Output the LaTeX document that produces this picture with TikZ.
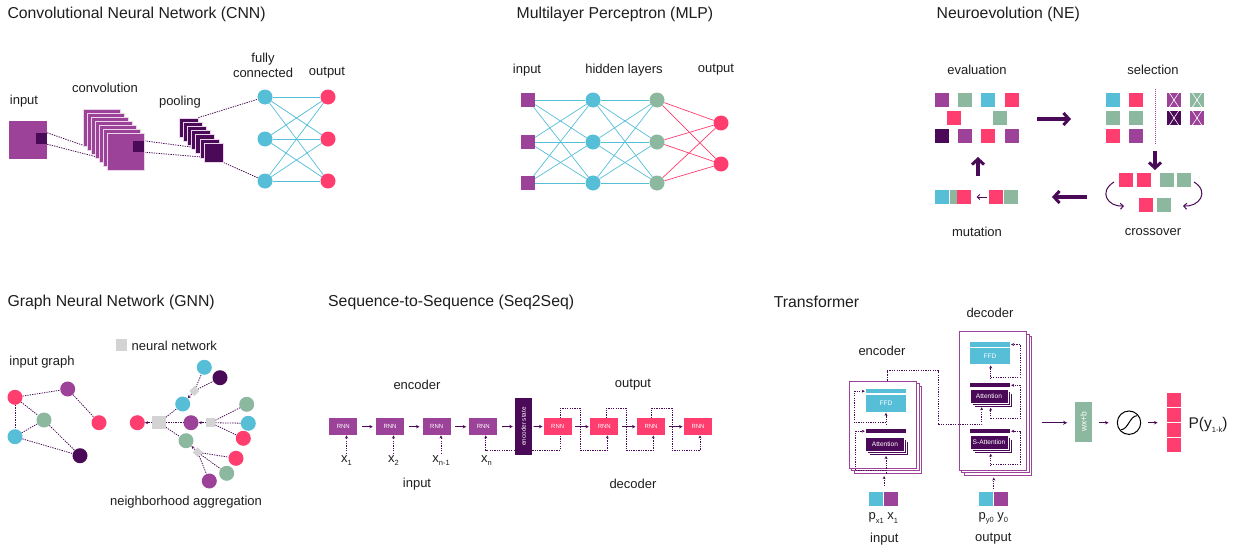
\documentclass[tikz,border=0pt]{standalone}
\usepackage{fontspec}
\setmainfont{Liberation Sans}
\usetikzlibrary{arrows.meta,calc}
\pgfdeclarelayer{bgfill}
\pgfdeclarelayer{bg}
\pgfsetlayers{bgfill,bg,main}
\definecolor{cpurple}{HTML}{9C4399}
\definecolor{cdark}{HTML}{4B0A57}
\definecolor{cred}{HTML}{FF3D6E}
\definecolor{ccyan}{HTML}{57BED8}
\definecolor{cgreen}{HTML}{8CB8A0}
\definecolor{cgrey}{HTML}{D3D3D3}
\definecolor{ctext}{HTML}{1E1E1E}
\definecolor{cpale}{HTML}{EBD5EA}
\newcommand\mysub[1]{\raisebox{-0.45ex}{\fontsize{7.5}{8}\selectfont #1}}
\tikzset{
 txt/.style={text=ctext, inner sep=0},
 lbl/.style={txt, font=\fontsize{13}{15}\selectfont},
 ttl/.style={txt, font=\fontsize{15.8}{18}\selectfont, anchor=west},
 cnode/.style={circle, minimum size=15, inner sep=0},
 snode/.style={rectangle, minimum size=14, inner sep=0},
 dline/.style={draw=cdark, line width=0.8, dash pattern=on 1.3pt off 1.1pt},
 dotarr/.style={dline, -{Stealth[length=3pt,width=3pt]}},
 nnline/.style={draw=ccyan, line width=0.7},
 rdline/.style={draw=cred, line width=0.7},
 sarr/.style={draw=cdark, line width=0.8, -{Stealth[length=3.5pt,width=3.5pt]}},
 bigarrow/.style={draw=cdark, line width=3.4pt, -{Straight Barb[length=5.5pt,width=12pt,line width=3pt]}},
 rnn/.style={rectangle, minimum width=28, minimum height=17, inner sep=0, text=white, font=\fontsize{6}{7}\selectfont},
 small/.style={text=white, font=\fontsize{6.6}{7}\selectfont},
 tbox/.style={rectangle, draw=cpurple, fill=white, line width=0.9, inner sep=0},
 diam/.style={rectangle, rotate=45, minimum size=7, inner sep=0, fill=cgrey},
}
\begin{document}
\begin{tikzpicture}[x=1pt,y=-1pt]
\useasboundingbox (0,0) rectangle (1237,554);
\begin{pgfonlayer}{bgfill}
\fill[white] (0,0) rectangle (1237,554);
\end{pgfonlayer}

% ================= CNN =================
\node[ttl] (tcnn) at (7.3,14) {Convolutional Neural Network (CNN)};
\node[lbl] (clin) at (24,101) {input};
\node[lbl] (clconv) at (105,88) {convolution};
\node[lbl] (clpool) at (180,102) {pooling};
\node[lbl, align=center] (clfc) at (263,65.5) {fully\\connected};
\node[lbl] (clout) at (327,73) {output};
\node[snode, fill=cpurple, minimum size=38] (cin) at (28,140) {};
\node[snode, fill=cdark, minimum size=11] (cink) at (41.5,138.5) {};
\foreach \ii in {0,...,6}
  \node[snode, fill=cpurple, draw=cpale, line width=0.7, minimum size=37] (conv\ii) at (101.5+4*\ii,127.5+4*\ii) {};
\node[snode, fill=cdark, minimum size=11] (convk) at (138.5,146.5) {};
\foreach \ii in {0,...,6}
  \node[snode, fill=cdark, draw=cpale, line width=0.7, minimum size=19] (pool\ii) at (188.5+4.2*\ii,127.5+4.2*\ii) {};
\foreach \ii/\yy in {1/97,2/139,3/181}{
  \node[cnode, fill=ccyan] (fc\ii) at (265,\yy) {};
  \node[cnode, fill=cred] (co\ii) at (328,\yy) {};
}
\begin{pgfonlayer}{bg}
\draw[dline] (cink.north east) -- ($(conv6.west)+(0,2)$);
\draw[dline] (cink.south east) -- ($(conv6.west)+(0,8)$);
\draw[dline] (convk.north east) -- ($(pool6.west)+(0,-4)$);
\draw[dline] (convk.south east) -- ($(pool6.west)+(0,4.5)$);
\draw[dline] (pool0.north east) -- (fc1);
\draw[dline] (pool6.south east) -- (fc3);
\foreach \aa in {1,2,3}{\foreach \bb in {1,2,3}{\draw[nnline] (fc\aa) -- (co\bb);}}
\end{pgfonlayer}

% ================= MLP =================
\node[ttl] (tmlp) at (516.4,14) {Multilayer Perceptron (MLP)};
\node[lbl] (mlin) at (527,70) {input};
\node[lbl] (mlhid) at (624,70) {hidden layers};
\node[lbl] (mlout) at (716,70) {output};
\foreach \ii/\yy in {1/100,2/142,3/183}{
  \node[snode, fill=cpurple] (mi\ii) at (528,\yy) {};
  \node[cnode, fill=ccyan] (mh\ii) at (593,\yy) {};
  \node[cnode, fill=cgreen] (mg\ii) at (657,\yy) {};
}
\node[cnode, fill=cred] (mo1) at (721,123) {};
\node[cnode, fill=cred] (mo2) at (721,164) {};
\begin{pgfonlayer}{bg}
\foreach \aa in {1,2,3}{\foreach \bb in {1,2,3}{
  \draw[nnline] (mi\aa) -- (mh\bb);
  \draw[nnline] (mh\aa) -- (mg\bb);}}
\foreach \aa in {1,2,3}{\foreach \bb in {1,2}{\draw[rdline] (mg\aa) -- (mo\bb);}}
\end{pgfonlayer}

% ================= NE =================
\node[ttl] (tne) at (936.5,14) {Neuroevolution (NE)};
\node[lbl] (nlev) at (977,70) {evaluation};
\node[lbl] (nlsel) at (1153,70) {selection};
\node[lbl] (nlmut) at (977,232) {mutation};
\node[lbl] (nlcro) at (1153,232) {crossover};
% evaluation
\node[snode, fill=cpurple] (e1) at (942,100) {};
\node[snode, fill=cgreen] (e2) at (965,100) {};
\node[snode, fill=ccyan] (e3) at (988,100) {};
\node[snode, fill=cred] (e4) at (1012,100) {};
\node[snode, fill=cred] (e5) at (954,118) {};
\node[snode, fill=cgreen] (e6) at (1000,118) {};
\node[snode, fill=cdark] (e7) at (942,136) {};
\node[snode, fill=cpurple] (e8) at (965,136) {};
\node[snode, fill=cred] (e9) at (988,136) {};
\node[snode, fill=cpurple] (e10) at (1012,136) {};
% selection
\node[snode, fill=ccyan] (s1) at (1113,100) {};
\node[snode, fill=cred] (s2) at (1136,100) {};
\node[snode, fill=cgreen] (s3) at (1113,118) {};
\node[snode, fill=cgreen] (s4) at (1136,118) {};
\node[snode, fill=cred] (s5) at (1113,136) {};
\node[snode, fill=cpurple] (s6) at (1136,136) {};
\coordinate (sv1) at (1155,89);
\coordinate (sv2) at (1155,145);
\draw[draw=cpurple, line width=0.8, dash pattern=on 1pt off 1pt] (sv1) -- (sv2);
\node[snode, fill=cpurple] (k1) at (1174,100) {};
\node[snode, fill=cgreen] (k2) at (1197,100) {};
\node[snode, fill=cdark] (k3) at (1174,118) {};
\node[snode, fill=cpurple] (k4) at (1197,118) {};
\foreach \ii in {1,2,3,4}{
  \draw[white, line width=0.6] ($(k\ii.north west)+(1.5,-1.5)$) -- ($(k\ii.south east)+(-1.5,1.5)$);
  \draw[white, line width=0.6] ($(k\ii.north east)+(-1.5,-1.5)$) -- ($(k\ii.south west)+(1.5,1.5)$);
}
% crossover
\node[snode, fill=cred] (x1) at (1126,180) {};
\node[snode, fill=cred] (x2) at (1144,180) {};
\node[snode, fill=cgreen] (x3) at (1167,180) {};
\node[snode, fill=cgreen] (x4) at (1184,180) {};
\node[snode, fill=cred] (x5) at (1146.3,205) {};
\node[snode, fill=cgreen] (x6) at (1164,205) {};
\coordinate (cl1) at (1114,182);
\coordinate (cl2) at (1124,206);
\coordinate (cr1) at (1194,182);
\coordinate (cr2) at (1183,206);
\draw[draw=cdark, line width=1, -{Straight Barb[length=3pt,width=6pt]}] (cl1) .. controls (1098,192) and (1108,207) .. (cl2);
\draw[draw=cdark, line width=1, -{Straight Barb[length=3pt,width=6pt]}] (cr1) .. controls (1210,192) and (1199,207) .. (cr2);
% mutation
\node[snode, fill=ccyan] (u1) at (942,197) {};
\node[snode, fill=cgreen] (u2) at (956.7,197) {};
\node[snode, fill=cred] (u3) at (964,197) {};
\node[snode, fill=cred] (u4) at (995.8,197) {};
\node[snode, fill=cgreen] (u5) at (1011,197) {};
\draw[draw=cdark, line width=0.8, -{Straight Barb[length=2.5pt,width=5pt]}] ($(u4.west)+(-1.5,0)$) -- ($(u3.east)+(5.5,0)$);
% big arrows
\coordinate (ba1) at (1037,119);
\coordinate (ba2) at (1071,119);
\draw[bigarrow] (ba1) -- (ba2);
\coordinate (bb1) at (1155,151);
\coordinate (bb2) at (1155,170);
\draw[bigarrow] (bb1) -- (bb2);
\coordinate (bc1) at (1087,197);
\coordinate (bc2) at (1052,197);
\draw[bigarrow] (bc1) -- (bc2);
\coordinate (bd1) at (978,176);
\coordinate (bd2) at (978,157);
\draw[bigarrow] (bd1) -- (bd2);

% ================= GNN =================
\node[ttl] (tgnn) at (7.3,302) {Graph Neural Network (GNN)};
\node[rectangle, fill=cgrey, minimum size=11.5, inner sep=0] (glegsq) at (121.5,345) {};
\node[lbl, anchor=west] (gleg) at (131.5,346) {neural network};
\node[lbl] (glin) at (42,362) {input graph};
\node[lbl] (glagg) at (186,502) {neighborhood aggregation};
\node[cnode, fill=cred] (ga) at (15,397.3) {};
\node[cnode, fill=cpurple] (gb) at (67.7,389) {};
\node[cnode, fill=cgreen] (gc) at (44,420) {};
\node[cnode, fill=ccyan] (gd) at (15,436.7) {};
\node[cnode, fill=cred] (ge) at (99,422.7) {};
\node[cnode, fill=cdark] (gf) at (80,455.7) {};
\node[cnode, fill=cred] (gR) at (137.3,422.7) {};
\node[rectangle, fill=cgrey, minimum size=13.3, inner sep=0] (gG1) at (159,422.7) {};
\node[cnode, fill=ccyan] (gn1) at (182.7,404) {};
\node[cnode, fill=cpurple] (gn2) at (191,422.7) {};
\node[cnode, fill=cgreen] (gn3) at (186,440.7) {};
\node[diam] (gG2) at (194.3,391) {};
\node[cnode, fill=ccyan] (gba) at (204.3,367.3) {};
\node[cnode, fill=cdark] (gda) at (220,377.7) {};
\node[rectangle, fill=cgrey, minimum size=9, inner sep=0] (gG3) at (210.7,422.7) {};
\node[cnode, fill=cgreen] (ggb) at (246.7,404.3) {};
\node[cnode, fill=ccyan] (gbb) at (248.3,423.3) {};
\node[cnode, fill=cred] (grb) at (243.3,438.3) {};
\node[diam] (gG4) at (197.7,452.3) {};
\node[cnode, fill=cred] (grc) at (236,458.3) {};
\node[cnode, fill=cgreen] (ggc) at (226.7,473.3) {};
\node[cnode, fill=cpurple] (gpc) at (209.3,481) {};
\begin{pgfonlayer}{bg}
\draw[dline] (ga) -- (gb);
\draw[dline] (ga) -- (gc);
\draw[dline] (ga) -- (gd);
\draw[dline] (gb) -- (ge);
\draw[dline] (gc) -- (gd);
\draw[dline] (gc) -- (gf);
\draw[dline] (gd) -- (gf);
\draw[dotarr] (gG1) -- (gR);
\draw[dline] (gG1) -- (gn1);
\draw[dline] (gG1) -- (gn2);
\draw[dline] (gG1) -- (gn3);
\draw[dotarr] (gG2) -- (gn1);
\draw[dline] (gG2) -- (gba);
\draw[dline] (gG2) -- (gda);
\draw[dotarr] (gG3) -- (gn2);
\draw[dline] (gG3) -- (ggb);
\draw[dline] (gG3) -- (gbb);
\draw[dline] (gG3) -- (grb);
\draw[dotarr] (gG4) -- (gn3);
\draw[dline] (gG4) -- (grc);
\draw[dline] (gG4) -- (ggc);
\draw[dline] (gG4) -- (gpc);
\end{pgfonlayer}

% ================= Seq2Seq =================
\node[ttl] (tseq) at (328,302) {Sequence-to-Sequence (Seq2Seq)};
\node[lbl] (qlenc) at (417,385) {encoder};
\node[lbl] (qlout) at (633,385) {output};
\node[lbl] (qlin) at (417,484) {input};
\node[lbl] (qldec) at (633,484) {decoder};
\node[rnn, fill=cpurple] (r1) at (343.3,426.7) {RNN};
\node[rnn, fill=cpurple] (r2) at (390,426.7) {RNN};
\node[rnn, fill=cpurple] (r3) at (436.7,426.7) {RNN};
\node[rnn, fill=cpurple] (r4) at (483.3,426.7) {RNN};
\node[rectangle, fill=cdark, minimum width=17, minimum height=57, inner sep=0] (es) at (523.5,426.5) {};
\node[rotate=90, text=white, font=\fontsize{6.3}{7}\selectfont, inner sep=0] (estxt) at (es) {encoder state};
\node[rnn, fill=cred] (d1) at (557.7,426.7) {RNN};
\node[rnn, fill=cred] (d2) at (604.3,426.7) {RNN};
\node[rnn, fill=cred] (d3) at (651,426.7) {RNN};
\node[rnn, fill=cred] (d4) at (698,426.7) {RNN};
\node[lbl] (xl1) at (346.5,461) {x\mysub{1}};
\node[lbl] (xl2) at (393.5,461) {x\mysub{2}};
\node[lbl] (xl3) at (441,461) {x\mysub{n-1}};
\node[lbl] (xl4) at (486.5,461) {x\mysub{n}};
\draw[dotarr, shorten <=2pt] (xl1.north) -- (xl1.north |- r1.south);
\draw[dotarr, shorten <=2pt] (xl2.north) -- (xl2.north |- r2.south);
\draw[dotarr, shorten <=2pt] (xl3.north) -- (xl3.north |- r3.south);
\draw[sarr, shorten <=4.5pt, shorten >=3pt] (r1) -- (r2);
\draw[sarr, shorten <=4.5pt, shorten >=3pt] (r2) -- (r3);
\draw[sarr, shorten <=4.5pt, shorten >=3pt] (r3) -- (r4);
\draw[sarr, shorten <=4.5pt, shorten >=2pt] (r4) -- (es);
\draw[sarr, shorten <=1.3pt, shorten >=1pt] (es) -- (d1);
\draw[sarr, shorten <=3.5pt, shorten >=1.3pt] (d1) -- (d2);
\draw[sarr, shorten <=3.5pt, shorten >=1.3pt] (d2) -- (d3);
\draw[sarr, shorten <=3.5pt, shorten >=1.3pt] (d3) -- (d4);
\draw[dotarr] ($(es.south west)+(0,-5)$) -| ($(r4.south)+(2.4,0)$);
\draw[dline] ($(es.south east)+(0,-5)$) -| ($(d1.south)+(2.3,0)$);
\draw[dotarr] ($(d1.north)+(2.3,0)$) |- ($(d1.north east)+(8.3,-9.7)$) |- ($(d2.south)+(3,15)$) -- ($(d2.south)+(3,0)$);
\draw[dotarr] ($(d2.north)+(1.7,0)$) |- ($(d2.north east)+(7.7,-9.7)$) |- ($(d3.south)+(2.3,15)$) -- ($(d3.south)+(2.3,0)$);
\draw[dotarr] ($(d3.north)+(0.7,0)$) |- ($(d3.north east)+(6.7,-9.7)$) |- ($(d4.south)+(2,15)$) -- ($(d4.south)+(2,0)$);

% ================= Transformer =================
\node[ttl] (ttr) at (773.6,302) {Transformer};
\node[lbl] (tlenc) at (882,351) {encoder};
\node[lbl] (tldec) at (990,313) {decoder};
\node[lbl] (tlin) at (884.3,539) {input};
\node[lbl] (tlout) at (993.3,539) {output};
\foreach \ii in {2,1,0}
  \node[tbox, minimum width=67.4, minimum height=87.3] (enc\ii) at (883+2.5*\ii,424.65+2.5*\ii) {};
\foreach \ii in {2,1,0}
  \node[tbox, minimum width=67.4, minimum height=138.3] (dec\ii) at (993+2.5*\ii,400.85+2.5*\ii) {};
% encoder internals
\node[rectangle, fill=ccyan, minimum width=40, minimum height=4.3, inner sep=0] (efb) at (886,391.2) {};
\node[rectangle, fill=ccyan, minimum width=40, minimum height=16.7, inner sep=0, small] (eff) at (886,403.3) {FFD};
\node[rectangle, fill=cdark, minimum width=40, minimum height=4.3, inner sep=0] (eab) at (886,431.2) {};
\foreach \ii in {2,1}
  \node[rectangle, fill=cdark, draw=white, line width=0.5, minimum width=38.6, minimum height=14.5, inner sep=0] (eat\ii) at (885+2*\ii,444+2*\ii) {};
\node[rectangle, fill=cdark, draw=white, line width=0.5, minimum width=38.6, minimum height=14.5, inner sep=0, small] (eat0) at (885,444) {Attention};
% decoder internals
\node[rectangle, fill=ccyan, minimum width=40, minimum height=4.4, inner sep=0] (dfb) at (990,344.5) {};
\node[rectangle, fill=ccyan, minimum width=40, minimum height=16, inner sep=0, small] (dff) at (990,356.3) {FFD};
\node[rectangle, fill=cdark, minimum width=40, minimum height=4, inner sep=0] (dab) at (990,385.3) {};
\foreach \ii in {2,1}
  \node[rectangle, fill=cdark, draw=white, line width=0.5, minimum width=38, minimum height=14, inner sep=0] (dat\ii) at (989+2*\ii,396+2*\ii) {};
\node[rectangle, fill=cdark, draw=white, line width=0.5, minimum width=38, minimum height=14, inner sep=0, small] (dat0) at (989,396) {Attention};
\node[rectangle, fill=cdark, minimum width=40, minimum height=4.3, inner sep=0] (dsb) at (990,431.2) {};
\foreach \ii in {2,1}
  \node[rectangle, fill=cdark, draw=white, line width=0.5, minimum width=38, minimum height=14, inner sep=0] (dsa\ii) at (989+2*\ii,442+2*\ii) {};
\node[rectangle, fill=cdark, draw=white, line width=0.5, minimum width=38, minimum height=14, inner sep=0, small] (dsa0) at (989,442) {S-Attention};
% inputs
\node[snode, fill=ccyan] (eic) at (876.3,499.3) {};
\node[snode, fill=cpurple] (eip) at (891,499.3) {};
\node[snode, fill=ccyan] (dic) at (986.3,499.3) {};
\node[snode, fill=cpurple] (dip) at (1000.7,499.3) {};
\node[lbl] (eil) at (883.3,518) {p\mysub{x1} x\mysub{1}};
\node[lbl] (dil) at (993.3,518) {p\mysub{y0} y\mysub{0}};
% encoder dotted
\draw[dotarr] ($(eip.north west)+(0.3,-6)$) -- ($(eip.north west)+(0.3,-16)$);
\draw[dotarr] ($(eat0.south)+(1,22)$) -- ($(eat2.south)+(-3,0.5)$);
\draw[dotarr] ($(eat0.south)+(1,19.3)$) -| ($(eab.west)+(-10,0)$) -- ($(eab.west)+(-1,0)$);
\draw[dotarr] ($(eab.north)+(0,-4)$) -- ($(eff.south)+(0,1)$);
\draw[dotarr] ($(eab.north)+(0,-6)$) -| ($(efb.west)+(-11,0)$) -- ($(efb.west)+(-1,0)$);
% encoder to decoder
\draw[dotarr] ($(enc0.north)+(4.3,0)$) -- ($(enc0.north)+(4.3,-10)$) -| ($(dab.south west)+(-31.7,37.2)$) -| ($(dat2.south)+(-11.3,0)$);
% decoder dotted
\draw[dotarr] ($(dip.north west)+(0.3,-3)$) -- ($(dip.north west)+(0.3,-14.5)$);
\draw[dotarr] ($(dsa2.south)+(-2.3,13)$) -- ($(dsa2.south)+(-2.3,0.5)$);
\draw[dotarr] ($(dsa2.south)+(-2.3,11)$) -| ($(dsb.east)+(10,0)$) -- ($(dsb.east)+(1,0)$);
\draw[dotarr] ($(dsb.north)+(0.7,-10)$) -- ($(dat2.south)+(-2.3,0.5)$);
\draw[dotarr] ($(dsb.north)+(0.7,-10.2)$) -| ($(dab.east)+(10,0)$) -- ($(dab.east)+(1,0)$);
\draw[dotarr] ($(dab.north)+(0.7,-4)$) -- ($(dff.south)+(0.7,1)$);
\draw[dotarr] ($(dab.north)+(0.7,-6)$) -| ($(dfb.east)+(10,0)$) -- ($(dfb.east)+(1,0)$);
% output head
\node[rectangle, fill=cgreen, minimum width=17, minimum height=40, inner sep=0] (wxb) at (1083.5,421.8) {};
\node[rotate=90, text=white, font=\fontsize{8.5}{9}\selectfont, inner sep=0] (wxbt) at (wxb) {wx+b};
\node[circle, draw=black, line width=1, minimum size=23.4, inner sep=0] (sig) at (1129,422.7) {};
\draw[line width=1] ($(sig.center)+(-8,7)$) .. controls ($(sig.center)+(-1,7)$) and ($(sig.center)+(1,-7)$) .. ($(sig.center)+(8,-7)$);
\foreach \ii/\yy in {1/400.3,2/415.3,3/430.3,4/445.3}
  \node[rectangle, fill=cred, minimum size=14, inner sep=0] (pp\ii) at (1173.7,\yy) {};
\node[txt, font=\fontsize{15.5}{18}\selectfont] (plab) at (1208,425) {P(y\mysub{1-k})};
\coordinate (tstart) at (1041.7,422.7);
\draw[draw=cdark, line width=0.9, -{Stealth[length=4pt,width=4pt]}, shorten >=7.7pt] (tstart) -- (wxb.west |- tstart);
\draw[sarr, shorten <=6.3pt, shorten >=8.3pt] (wxb.east |- sig.west) -- (sig.west);
\draw[sarr, shorten <=6.6pt, shorten >=9pt] (sig.east) -- (sig.east -| pp2.west);
\end{tikzpicture}
\end{document}
